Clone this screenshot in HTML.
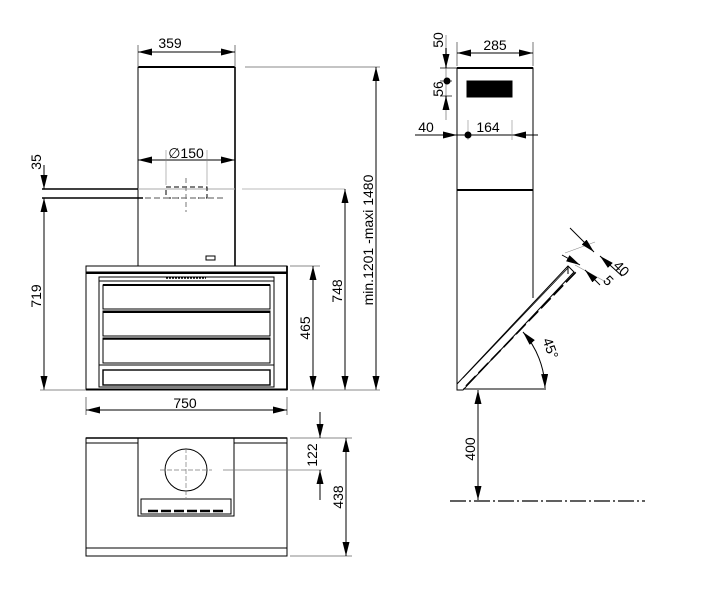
<!DOCTYPE html>
<html><head><meta charset="utf-8"><style>
html,body{margin:0;padding:0;background:#fff;}
svg{display:block;font-family:"Liberation Sans",Arial,sans-serif;}
</style></head><body>
<svg width="709" height="593" viewBox="0 0 709 593" xmlns="http://www.w3.org/2000/svg">
<defs>
<marker id="a" viewBox="0 0 14 7" refX="14" refY="3.5" markerWidth="14" markerHeight="7" orient="auto-start-reverse" markerUnits="userSpaceOnUse"><path d="M0,0L14,3.5L0,7z" fill="#000"/></marker>
</defs>
<g fill="none" stroke="#000" stroke-width="1">
<rect x="138" y="67" width="97" height="199"/>
<line x1="138" y1="67" x2="235" y2="67" stroke-width="2"/>
<line x1="235" y1="67" x2="235" y2="266" stroke-width="1.6"/>
<line x1="138" y1="160" x2="235" y2="160" marker-start="url(#a)" marker-end="url(#a)"/>
<line x1="166" y1="150" x2="166" y2="185" stroke="#888" stroke-width="0.6"/>
<line x1="207" y1="150" x2="207" y2="185" stroke="#888" stroke-width="0.6"/>
<line x1="138" y1="189" x2="235" y2="189" stroke="#aaa"/>
<line x1="242" y1="189" x2="345" y2="189" stroke="#bbb"/>
<rect x="166" y="187" width="41" height="11" stroke-dasharray="5,3"/>
<line x1="145" y1="198" x2="225" y2="198" stroke-dasharray="6,3" stroke="#555"/>
<line x1="186" y1="178" x2="186" y2="212" stroke-dasharray="5,3" stroke="#777"/>
<rect x="206" y="256" width="9" height="4"/>
<line x1="42" y1="189" x2="138" y2="189" stroke-width="1.5"/>
<line x1="42" y1="198" x2="143" y2="198" stroke-width="1.5"/>
<rect x="86" y="266" width="201" height="6"/>
<line x1="86" y1="273" x2="287" y2="273" stroke-width="2"/>
<rect x="86" y="273" width="201" height="117"/>
<line x1="287" y1="266" x2="287" y2="390" stroke-width="1.8"/>
<line x1="86" y1="389" x2="287" y2="389"/>
<rect x="99" y="277" width="175" height="110"/>
<line x1="99" y1="281" x2="274" y2="281"/>
<rect x="103" y="285" width="167" height="24"/>
<line x1="103" y1="285" x2="270" y2="285" stroke-width="2"/>
<rect x="103" y="311" width="167" height="25"/>
<line x1="103" y1="312" x2="270" y2="312" stroke-width="2"/>
<rect x="103" y="338" width="167" height="25"/>
<line x1="103" y1="339" x2="270" y2="339" stroke-width="1.6"/>
<line x1="99" y1="365" x2="274" y2="365"/>
<rect x="103" y="370" width="167" height="15" stroke-width="1.4"/>
<line x1="166" y1="278" x2="206" y2="278" stroke-dasharray="2,1" stroke-width="1.5"/>
<line x1="138" y1="45" x2="138" y2="67" stroke="#777"/>
<line x1="235" y1="45" x2="235" y2="67" stroke="#777"/>
<line x1="138" y1="52" x2="235" y2="52" marker-start="url(#a)" marker-end="url(#a)"/>
<line x1="245" y1="67" x2="380" y2="67" stroke="#888"/>
<line x1="44" y1="165" x2="44" y2="189" marker-end="url(#a)"/>
<line x1="44" y1="198" x2="44" y2="390" marker-start="url(#a)" marker-end="url(#a)"/>
<line x1="40" y1="390" x2="86" y2="390" stroke="#888"/>
<line x1="290" y1="266" x2="320" y2="266" stroke="#888"/>
<line x1="313" y1="266" x2="313" y2="390" marker-start="url(#a)" marker-end="url(#a)"/>
<line x1="345" y1="189" x2="345" y2="390" marker-start="url(#a)" marker-end="url(#a)"/>
<line x1="376" y1="67" x2="376" y2="390" marker-start="url(#a)" marker-end="url(#a)"/>
<line x1="290" y1="390" x2="380" y2="390" stroke="#888"/>
<line x1="86" y1="397" x2="86" y2="415" stroke="#777"/>
<line x1="287" y1="397" x2="287" y2="415" stroke="#777"/>
<line x1="86" y1="410" x2="287" y2="410" marker-start="url(#a)" marker-end="url(#a)"/>
<rect x="86" y="438" width="201" height="118"/>
<line x1="86" y1="438" x2="287" y2="438" stroke-width="1.6"/>
<line x1="86" y1="443" x2="138" y2="443"/>
<line x1="234" y1="443" x2="287" y2="443"/>
<line x1="86" y1="548" x2="287" y2="548"/>
<rect x="138" y="438" width="96" height="78"/>
<circle cx="186" cy="470" r="21"/>
<line x1="160" y1="470" x2="212" y2="470" stroke-dasharray="5,2" stroke="#777" stroke-width="0.7"/>
<line x1="186" y1="448" x2="186" y2="498" stroke-dasharray="5,2" stroke="#777" stroke-width="0.7"/>
<line x1="223" y1="470" x2="322" y2="470" stroke="#777" stroke-width="0.7"/>
<rect x="141" y="499" width="90" height="15"/>
<line x1="148" y1="511" x2="226" y2="511" stroke-width="2.5" stroke-dasharray="10,3"/>
<line x1="290" y1="438" x2="352" y2="438" stroke="#888"/>
<line x1="290" y1="556" x2="352" y2="556" stroke="#888"/>
<line x1="320" y1="412" x2="320" y2="438" marker-end="url(#a)"/>
<line x1="320" y1="500" x2="320" y2="470" marker-end="url(#a)"/>
<line x1="346" y1="438" x2="346" y2="556" marker-start="url(#a)" marker-end="url(#a)"/>
<rect x="457" y="68" width="76" height="122"/>
<line x1="457" y1="68" x2="533" y2="68" stroke-width="2"/>
<line x1="457" y1="190" x2="533" y2="190" stroke-width="2"/>
<line x1="533" y1="190" x2="533" y2="298"/>
<line x1="457" y1="190" x2="457" y2="390"/>
<rect x="467" y="81" width="45" height="16" fill="#000"/>
<polygon points="457,384 568,266 574,272 463,390 457,390"/>
<line x1="463" y1="378" x2="568" y2="268" stroke-width="0.8"/>
<line x1="466" y1="386" x2="576" y2="272" stroke-width="1.6" stroke-dasharray="14,4"/>
<line x1="568" y1="266" x2="568" y2="274"/>
<line x1="463" y1="389" x2="546" y2="389"/>
<path d="M545,388 A88,88 0 0 0 523,332" marker-start="url(#a)" marker-end="url(#a)"/>
<line x1="575" y1="265" x2="606" y2="282" stroke="#888" stroke-width="0.6"/>
<line x1="565" y1="253" x2="595" y2="242" stroke="#888" stroke-width="0.6"/>
<line x1="570" y1="228" x2="594" y2="252" marker-end="url(#a)"/>
<line x1="622" y1="276" x2="600" y2="256" marker-end="url(#a)"/>
<line x1="562" y1="255" x2="580" y2="265" marker-end="url(#a)"/>
<line x1="600" y1="285" x2="585" y2="270" marker-end="url(#a)"/>
<line x1="478" y1="390" x2="478" y2="500" marker-start="url(#a)" marker-end="url(#a)"/>
<line x1="450" y1="501" x2="645" y2="501" stroke-dasharray="16,3,2,3" stroke-width="1.2"/>
<line x1="457" y1="42" x2="457" y2="66" stroke="#777"/>
<line x1="533" y1="42" x2="533" y2="66" stroke="#777"/>
<line x1="457" y1="53" x2="533" y2="53" marker-start="url(#a)" marker-end="url(#a)"/>
<line x1="446" y1="35" x2="446" y2="120" stroke="#ccc" stroke-width="2"/>
<line x1="446" y1="48" x2="446" y2="68" marker-end="url(#a)"/>
<line x1="446" y1="110" x2="446" y2="96" marker-end="url(#a)"/>
<line x1="440" y1="68" x2="457" y2="68" stroke-width="0.7"/>
<line x1="440" y1="81" x2="452" y2="81" stroke-width="0.7"/>
<line x1="440" y1="96" x2="452" y2="96" stroke-width="0.7"/>
<line x1="415" y1="135" x2="457" y2="135" marker-end="url(#a)"/>
<line x1="457" y1="135" x2="538" y2="135"/>
<line x1="535" y1="135" x2="512" y2="135" marker-end="url(#a)" />
<line x1="468" y1="120" x2="468" y2="140" stroke="#888" stroke-width="0.6"/>
<line x1="512" y1="120" x2="512" y2="140" stroke="#888" stroke-width="0.6"/>
</g>
<circle cx="468" cy="135" r="3.5"/>
<circle cx="447" cy="81" r="3.5"/>
<g font-size="14" fill="#000">
<text x="170" y="48" text-anchor="middle">359</text>
<text x="186" y="158" text-anchor="middle">∅150</text>
<text x="185" y="408" text-anchor="middle">750</text>
<text x="41" y="162" transform="rotate(-90 41 162)" text-anchor="middle">35</text>
<text x="41" y="296" transform="rotate(-90 41 296)" text-anchor="middle">719</text>
<text x="310" y="328" transform="rotate(-90 310 328)" text-anchor="middle">465</text>
<text x="342" y="291" transform="rotate(-90 342 291)" text-anchor="middle">748</text>
<text x="373" y="240" transform="rotate(-90 373 240)" text-anchor="middle">min.1201 -maxi 1480</text>
<text x="317" y="455" transform="rotate(-90 317 455)" text-anchor="middle">122</text>
<text x="343" y="497" transform="rotate(-90 343 497)" text-anchor="middle">438</text>
<text x="495" y="50" text-anchor="middle">285</text>
<text x="443" y="40" transform="rotate(-90 443 40)" text-anchor="middle">50</text>
<text x="443" y="89" transform="rotate(-90 443 89)" text-anchor="middle">56</text>
<text x="426" y="132" text-anchor="middle">40</text>
<text x="488" y="132" text-anchor="middle">164</text>
<text x="475" y="449" transform="rotate(-90 475 449)" text-anchor="middle">400</text>
<text x="618" y="272" transform="rotate(45 618 272)" text-anchor="middle">40</text>
<text x="605" y="284" transform="rotate(45 605 284)" text-anchor="middle">5</text>
<text x="546" y="350" transform="rotate(70 546 350)" text-anchor="middle">45°</text>
</g>
</svg>
</body></html>
